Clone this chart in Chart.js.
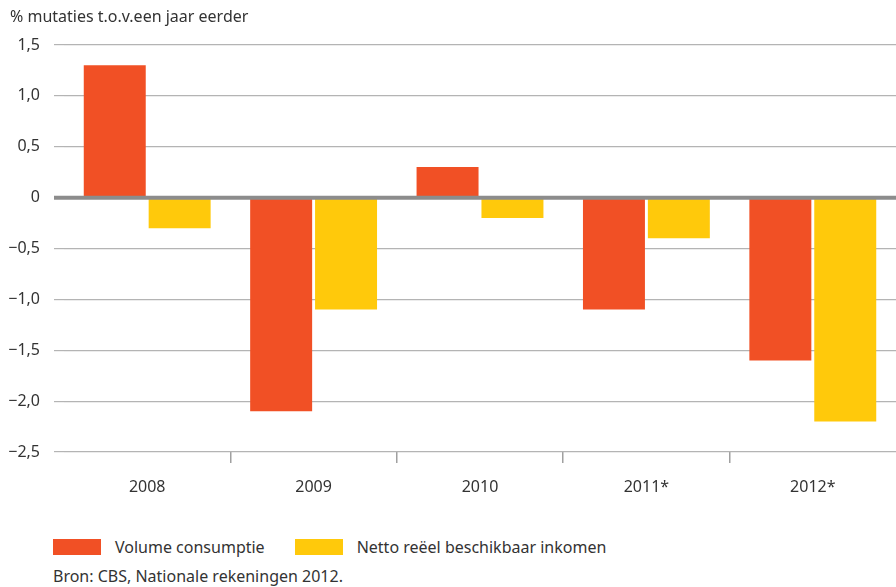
<!DOCTYPE html>
<html lang="nl">
<head>
  <meta charset="UTF-8">
  <title>Consumptie en inkomen</title>
  <script src="https://cdn.jsdelivr.net/npm/chart.js"></script>
  <style>
    body { margin: 0; background: #fff; font-family: "Noto Sans", sans-serif; color: #333; }
    #pagina { position: relative; width: 896px; height: 587px; overflow: hidden; }
    #titel { position: absolute; left: 10px; top: 5px; font-size: 16px; }
    #grafiek { position: absolute; left: 0; top: 0; width: 896px; height: 520px; }
    #legenda { position: absolute; left: 53px; top: 536px; font-size: 16px; display: flex; align-items: center; }
    .item { display: flex; align-items: center; margin-right: 30px; }
    .blok { width: 48px; height: 16px; margin-right: 14px; }
    #bron { position: absolute; left: 53px; top: 565px; font-size: 16px; }
  </style>
</head>
<body>
  <div id="pagina">
    <div id="grafiek"><canvas id="chartConsumptie"></canvas></div>
    <div id="titel">% mutaties t.o.v.een jaar eerder</div>
    <div id="legenda"></div>
    <div id="bron">Bron: CBS, Nationale rekeningen 2012.</div>
  </div>

<script>
  const jaren = ['2008', '2009', '2010', '2011*', '2012*'];
  const volumeConsumptie = [1.3, -2.1, 0.3, -1.1, -1.6];
  const nettoInkomen = [-0.3, -1.1, -0.2, -0.4, -2.2];
  const reeksNamen = ['Volume consumptie', 'Netto reëel beschikbaar inkomen'];
  const kleuren = ['#F15025', '#FFC90B'];

  // legenda in html
  const legenda = document.getElementById('legenda');
  reeksNamen.forEach((naam, i) => {
    const item = document.createElement('div');
    item.className = 'item';
    item.innerHTML = '<span class="blok" style="background:' + kleuren[i] + '"></span>' + naam;
    legenda.appendChild(item);
  });

  // dikke nullijn over de staven heen
  const nulLijn = {
    id: 'nulLijn',
    afterDatasetsDraw(chart) {
      const y = chart.scales.y.getPixelForValue(0);
      const ctx = chart.ctx;
      ctx.save();
      ctx.strokeStyle = '#8c8c8c';
      ctx.lineWidth = 4;
      ctx.beginPath();
      ctx.moveTo(chart.chartArea.left - 10, y);
      ctx.lineTo(chart.chartArea.right, y);
      ctx.stroke();
      ctx.restore();
    }
  };

  const grafiek = document.getElementById('chartConsumptie');

  new Chart(grafiek, {
    type: 'bar',
    data: {
      labels: jaren,
      datasets: [{
        label: reeksNamen[0],
        data: volumeConsumptie,
        backgroundColor: kleuren[0]
      }, {
        label: reeksNamen[1],
        data: nettoInkomen,
        backgroundColor: kleuren[1]
      }]
    },
    options: {
      responsive: true,
      maintainAspectRatio: false,
      animation: false,
      categoryPercentage: 0.78,
      barPercentage: 0.955,
      layout: { padding: { top: 45, right: 0, left: 0, bottom: 0 } },
      plugins: {
        legend: { display: false },
        tooltip: { enabled: false }
      },
      scales: {
        x: {
          border: { display: false },
          grid: {
            drawOnChartArea: false,
            drawTicks: true,
            tickLength: 11,
            color: (c) => c.index > 0 ? '#a0a0a0' : 'transparent',
            lineWidth: 1.5
          },
          ticks: {
            padding: 15,
            color: '#333',
            font: { family: 'Noto Sans', size: 16 }
          },
          afterFit: (s) => { s.height = 68; }
        },
        y: {
          min: -2.5,
          max: 1.5,
          border: { display: false },
          grid: {
            color: '#b4b4b4',
            lineWidth: 1.2,
            drawTicks: true,
            tickLength: 10
          },
          ticks: {
            stepSize: 0.5,
            padding: 14,
            color: '#333',
            font: { family: 'Noto Sans', size: 16 },
            callback: (v) => {
              if (v === 0) return '0';
              return (v < 0 ? '\u2212' : '') + Math.abs(v).toFixed(1).replace('.', ',');
            }
          },
          afterFit: (s) => { s.width = 64; }
        }
      }
    },
    plugins: [nulLijn]
  });
</script>
</body>
</html>
